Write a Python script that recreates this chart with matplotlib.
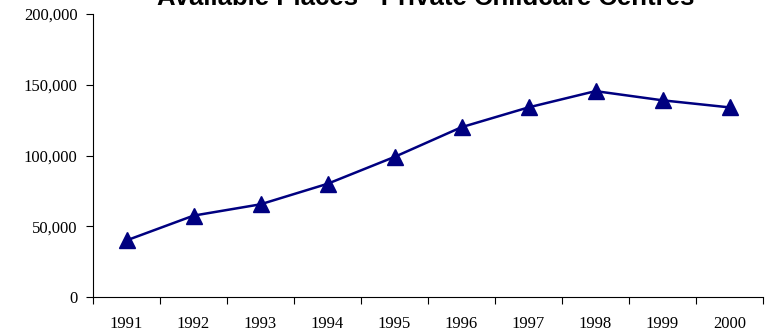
import matplotlib.pyplot as plt
from matplotlib.ticker import FuncFormatter

years = ["1991", "1992", "1993", "1994", "1995", "1996", "1997", "1998", "1999", "2000"]
places = [40000, 57500, 65500, 80000, 99000, 120000, 134000, 145500, 139000, 134000]

fig = plt.figure(figsize=(7.67, 3.32), dpi=100)
ax = fig.add_axes([93 / 767, 35 / 332, 670 / 767, 283 / 332])

x = [i + 0.5 for i in range(len(years))]
ax.plot(x, places, color="#000080", linewidth=1.8, marker="^", markersize=11,
        markerfacecolor="#000080", markeredgecolor="#000080", clip_on=False)

ax.set_xlim(0, len(years))
ax.set_ylim(0, 200000)
ax.set_xticks(range(len(years) + 1))
ax.set_xticklabels([])
ax.set_xticks(x, minor=True)
ax.set_xticklabels(years, minor=True)
ax.tick_params(axis="x", which="minor", length=0, pad=14)
ax.tick_params(axis="x", which="major", length=5, direction="out")
ax.set_yticks(range(0, 200001, 50000))
ax.yaxis.set_major_formatter(FuncFormatter(lambda v, p: f"{int(v):,}"))
ax.tick_params(axis="y", length=5, direction="out", pad=6)

for lab in ax.get_xticklabels(minor=True) + ax.get_yticklabels():
    lab.set_fontfamily("Liberation Serif")
    lab.set_fontsize(12)

ax.spines["top"].set_visible(False)
ax.spines["right"].set_visible(False)

fig.text(426 / 767, 1 - 5 / 332, "Available Places - Private Childcare Centres",
         ha="center", va="baseline", fontsize=18.5, fontweight="bold",
         fontfamily="Liberation Sans")

fig.savefig("out.png", dpi=100)
